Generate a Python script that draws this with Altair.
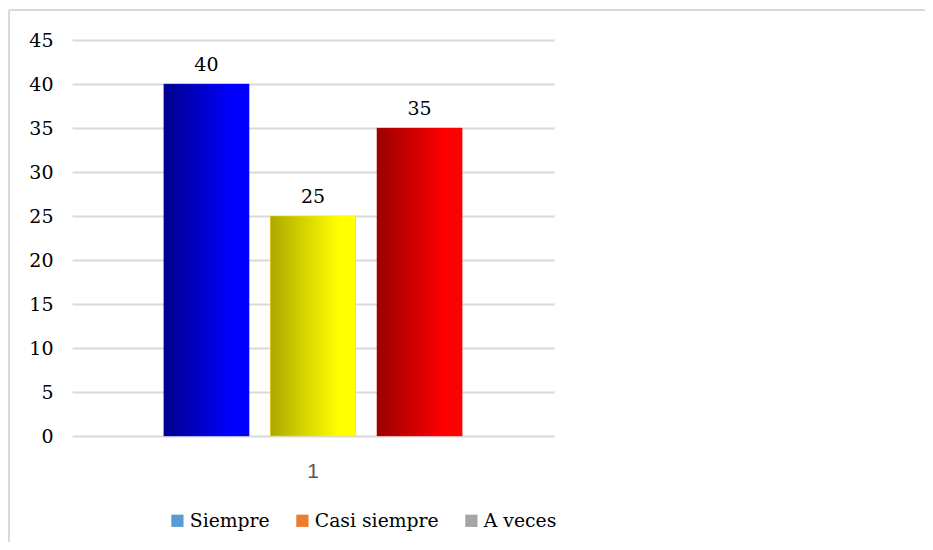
import altair as alt
import pandas as pd

category = ["1"]
series = ["Siempre", "Casi siempre", "A veces"]
values = [40, 25, 35]
legend_colors = ["#5B9BD5", "#ED7D31", "#A5A5A5"]
bar_dark = ["#00008A", "#ADA800", "#990000"]
bar_light = ["#0000FF", "#FFFF00", "#FF0000"]

SERIF = "DejaVu Serif"
SANS = "Liberation Sans"

df = pd.DataFrame({"cat": category * len(series), "serie": series, "valor": values})

W, H = 482, 396
PAD = {"left": 64, "top": 32, "right": 371, "bottom": 106}

x = alt.X("cat:N", title=None,
          scale=alt.Scale(paddingInner=0, paddingOuter=0.254),
          axis=alt.Axis(labelAngle=0, ticks=False, domain=False, grid=False,
                        labelFont=SANS, labelFontSize=21,
                        labelColor="#595959", labelPadding=24))
xo = alt.XOffset("serie:N", sort=series,
                 scale=alt.Scale(domain=series, paddingInner=0.2, paddingOuter=0.1))
y = alt.Y("valor:Q", title=None, scale=alt.Scale(domain=[0, 45]),
          axis=alt.Axis(values=list(range(0, 46, 5)), ticks=False, domain=False,
                        gridColor="#D9D9D9", gridWidth=2,
                        labelFont=SERIF, labelFontSize=19,
                        labelColor="#000000", labelPadding=19))

base = alt.Chart(df)

legend_bars = base.mark_bar().encode(
    x=x, xOffset=xo, y=y,
    color=alt.Color("serie:N", sort=series,
                    scale=alt.Scale(domain=series, range=legend_colors),
                    legend=alt.Legend(title=None, orient="none", direction="horizontal",
                                      legendX=96, legendY=471,
                                      symbolType="square", symbolSize=150,
                                      symbolStrokeWidth=0,
                                      labelFont=SERIF, labelFontSize=18.8,
                                      labelColor="#000000", labelOffset=3,
                                      columnPadding=23)),
)

grad_layers = []
for s, d, l in zip(series, bar_dark, bar_light):
    g = alt.Gradient(gradient="linear", x1=0, x2=1, y1=0, y2=0,
                     stops=[alt.GradientStop(color=d, offset=0),
                            alt.GradientStop(color=l, offset=0.8),
                            alt.GradientStop(color=l, offset=1)])
    grad_layers.append(
        base.transform_filter(alt.datum.serie == s)
        .mark_bar(fill=g, stroke=l, strokeOpacity=0.35, strokeWidth=1)
        .encode(x=x, xOffset=xo, y=y)
    )

labels = base.mark_text(dy=-13, baseline="alphabetic", font=SERIF,
                        fontSize=19, color="#000000").encode(
    x=x, xOffset=xo, y=y, text=alt.Text("valor:Q"))

one = alt.Chart(pd.DataFrame({"k": [0]}))
frame_top = one.mark_rule(color="#D9D9D9", strokeWidth=2).encode(
    x=alt.value(-63), x2=alt.value(W + PAD["right"]), y=alt.value(-30))
frame_left = one.mark_rule(color="#D9D9D9", strokeWidth=2).encode(
    x=alt.value(-63), y=alt.value(-30), y2=alt.value(H + PAD["bottom"]))

chart = alt.layer(legend_bars, *grad_layers, labels, frame_top, frame_left).properties(
    width=W, height=H, padding=PAD, autosize="none"
).configure_view(stroke=None)

chart.save("out.html", embed_options={"renderer": "svg", "actions": False})
